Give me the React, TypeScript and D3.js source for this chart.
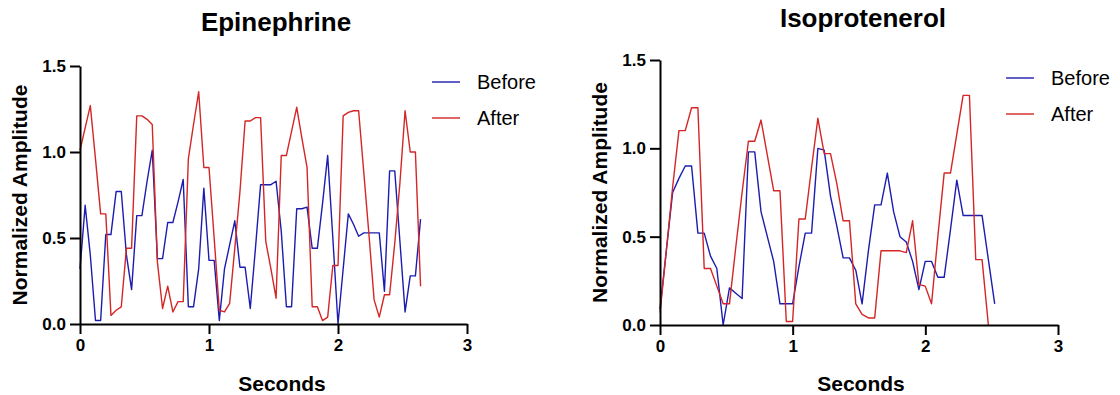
import { useEffect, useRef } from "react"
import * as d3 from "d3"

// sampling interval (s) of each recording
const EPI_DT = 0.04
const ISO_DT = 0.0476

const xTicks = [0, 1, 2, 3]
const yTicks = [0, 0.5, 1.0, 1.5]
const seriesNames = ["Before", "After"]

const epiBefore = [
  0.32, 0.69, 0.40, 0.02, 0.02, 0.52, 0.52, 0.77, 0.77, 0.40,
  0.20, 0.63, 0.63, 0.83, 1.01, 0.38, 0.38, 0.59, 0.59, 0.71,
  0.84, 0.10, 0.10, 0.32, 0.79, 0.37, 0.37, 0.02, 0.32, 0.46,
  0.60, 0.33, 0.33, 0.09, 0.44, 0.81, 0.81, 0.81, 0.83, 0.54,
  0.10, 0.10, 0.67, 0.67, 0.68, 0.44, 0.44, 0.70, 0.98, 0.50,
  0.00, 0.32, 0.64, 0.58, 0.51, 0.53, 0.53, 0.53, 0.53, 0.19,
  0.89, 0.89, 0.48, 0.07, 0.28, 0.28, 0.61,
]

const epiAfter = [
  1.01, 1.14, 1.27, 0.96, 0.64, 0.64, 0.05, 0.08, 0.10, 0.44,
  0.44, 1.21, 1.21, 1.19, 1.16, 0.36, 0.09, 0.22, 0.07, 0.13,
  0.13, 0.96, 1.16, 1.35, 0.91, 0.91, 0.50, 0.08, 0.07, 0.12,
  0.44, 0.77, 1.18, 1.18, 1.20, 1.20, 0.48, 0.32, 0.15, 0.98,
  0.98, 1.12, 1.26, 1.08, 0.91, 0.10, 0.10, 0.02, 0.04, 0.34,
  0.34, 1.21, 1.23, 1.24, 1.24, 0.88, 0.52, 0.14, 0.04, 0.17,
  0.17, 0.47, 0.82, 1.24, 1.00, 1.00, 0.22,
]

const isoBefore = [
  0.09, 0.42, 0.75, 0.83, 0.90, 0.90, 0.52, 0.52, 0.39, 0.32,
  0.00, 0.21, 0.18, 0.15, 0.98, 0.98, 0.64, 0.50, 0.36, 0.12,
  0.12, 0.12, 0.33, 0.52, 0.52, 1.00, 0.99, 0.73, 0.56, 0.38,
  0.38, 0.31, 0.12, 0.42, 0.68, 0.68, 0.86, 0.64, 0.50, 0.47,
  0.36, 0.20, 0.36, 0.36, 0.27, 0.27, 0.54, 0.82, 0.62, 0.62,
  0.62, 0.62, 0.37, 0.12,
]

const isoAfter = [
  0.07, 0.42, 0.78, 1.10, 1.10, 1.23, 1.23, 0.32, 0.32, 0.22,
  0.12, 0.12, 0.44, 0.75, 1.04, 1.04, 1.16, 0.96, 0.76, 0.76,
  0.02, 0.02, 0.60, 0.60, 0.89, 1.17, 0.97, 0.97, 0.80, 0.59,
  0.59, 0.12, 0.06, 0.04, 0.04, 0.42, 0.42, 0.42, 0.42, 0.41,
  0.59, 0.23, 0.22, 0.12, 0.50, 0.86, 0.86, 1.08, 1.30, 1.30,
  0.37, 0.37, 0.00,
]

const BLUE = "#1c1cb0"
const RED = "#d42626"
const FONT = "Arial, 'Liberation Sans', Helvetica, sans-serif"

const panels = [
  {
    title: "Epinephrine", before: epiBefore, after: epiAfter, dt: EPI_DT,
    xRange: [80, 467], yRange: [324, 66], titleX: 276, titleY: 31, xLabelX: 282,
    yLabelX: 27, legendX: 432, legendY: 82,
  },
  {
    title: "Isoprotenerol", before: isoBefore, after: isoAfter, dt: ISO_DT,
    xRange: [660, 1058], yRange: [325, 60], titleX: 863, titleY: 27, xLabelX: 861,
    yLabelX: 607, legendX: 1006, legendY: 78,
  },
]

export default function App() {
  const svgRef = useRef(null)

  useEffect(() => {
    if (!svgRef.current) return
    const svg = d3.select(svgRef.current)
    svg.selectAll("*").remove()

    panels.forEach(p => {
      const x = d3.scaleLinear().domain([0, 3]).range(p.xRange)
      const y = d3.scaleLinear().domain([0, 1.5]).range(p.yRange)
      const g = svg.append("g")

      // Series
      const line = d3.line<number>()
        .x((d, i) => x(i * p.dt))
        .y(d => y(d))
      g.append("path").datum(p.before)
        .attr("fill", "none").attr("stroke", BLUE).attr("stroke-width", 1.4)
        .attr("stroke-linejoin", "round").attr("d", line)
      g.append("path").datum(p.after)
        .attr("fill", "none").attr("stroke", RED).attr("stroke-width", 1.4)
        .attr("stroke-linejoin", "round").attr("d", line)

      // Axes
      const yAxis = g.append("g")
        .attr("transform", `translate(${p.xRange[0]},0)`)
        .call(d3.axisLeft(y).tickValues(yTicks).tickFormat(d3.format(".1f")).tickSize(10).tickSizeOuter(0).tickPadding(4))
      const xAxis = g.append("g")
        .attr("transform", `translate(0,${p.yRange[0]})`)
        .call(d3.axisBottom(x).tickValues(xTicks).tickFormat(d3.format("d")).tickSize(10).tickSizeOuter(0).tickPadding(5))
      ;[xAxis, yAxis].forEach(a => {
        a.selectAll("path,line").attr("stroke", "#000").attr("stroke-width", 2)
        a.selectAll("text").attr("fill", "#000").style("font-family", FONT)
          .style("font-size", "17px").style("font-weight", "bold")
      })

      // Titles
      g.append("text").attr("x", p.titleX).attr("y", p.titleY).attr("text-anchor", "middle")
        .style("font-family", FONT).style("font-size", "26px").style("font-weight", "bold")
        .text(p.title)
      g.append("text").attr("x", p.xLabelX).attr("y", 391).attr("text-anchor", "middle")
        .style("font-family", FONT).style("font-size", "21px").style("font-weight", "bold")
        .text("Seconds")
      g.append("text")
        .attr("transform", `translate(${p.yLabelX},${(p.yRange[0] + p.yRange[1]) / 2}) rotate(-90)`)
        .attr("text-anchor", "middle")
        .style("font-family", FONT).style("font-size", "21px").style("font-weight", "bold")
        .text("Normalized Amplitude")

      // Legend
      seriesNames.forEach((name, i) => {
        const ly = p.legendY + i * 36
        g.append("line").attr("x1", p.legendX).attr("x2", p.legendX + 28)
          .attr("y1", ly).attr("y2", ly)
          .attr("stroke", i === 0 ? BLUE : RED).attr("stroke-width", 1.4)
        g.append("text").attr("x", p.legendX + 45).attr("y", ly).attr("dy", "0.35em")
          .style("font-family", FONT).style("font-size", "20px")
          .text(name)
      })
    })
  }, [])

  return (
    <div style={{ position: "absolute", left: 0, top: 0, width: 1120, height: 395, background: "#fff" }}>
      <svg ref={svgRef} width={1120} height={395} style={{ display: "block" }} />
    </div>
  )
}
